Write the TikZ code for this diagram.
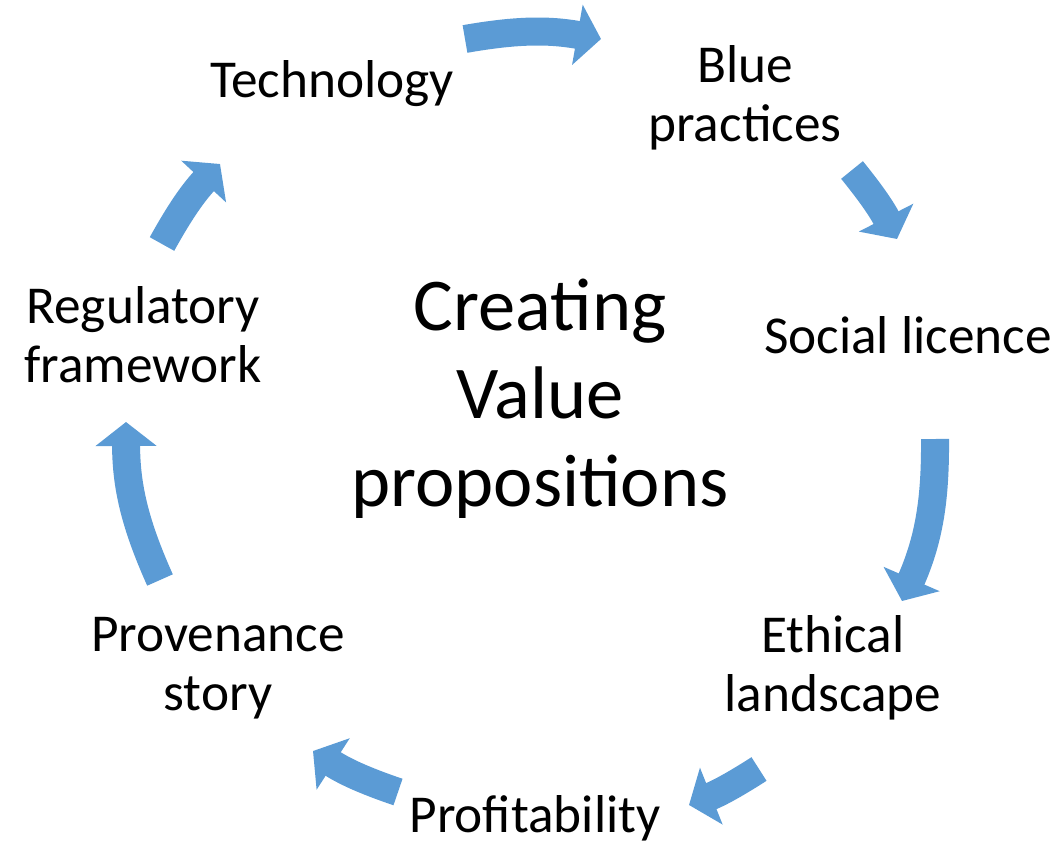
\documentclass[tikz,border=0pt]{standalone}
\usepackage{fontspec}
\setmainfont{Carlito}
\usetikzlibrary{arrows.meta}
\definecolor{arrowblue}{HTML}{5B9BD5}
\begin{document}
\begin{tikzpicture}[x=1pt,y=1pt,
 lbl/.style={font=\fontsize{53.3}{59}\selectfont, align=center, inner sep=0pt},
 cyc/.style={draw=arrowblue, line width=28pt, -{Triangle[width=60pt,length=24pt]}}]
\useasboundingbox (0,0) rectangle (1059,-840);
\clip (0,0) rectangle (1059,-840);
\node[lbl] (tech) at (332,-84) {Technology};
\node[lbl] (blue) at (745,-98) {Blue\\practices};
\node[lbl] (social) at (908,-335) {Social licence};
\node[lbl] (ethical) at (833,-668) {Ethical\\landscape};
\node[lbl, anchor=base] (profit) at (535,-832) {Profitability};
\node[lbl] (prov) at (218,-668) {Provenance\\story};
\node[lbl] (reg) at (143,-335) {Regulatory\\framework};
\node[font=\fontsize{74.5}{88}\selectfont, align=center, inner sep=0pt] (centre) at (540,-399) {Crea\kern0pt ting\\Value\\proposi\kern0pt tions};
\coordinate (t1) at (465,-39); \coordinate (h1) at (601,-39);
\coordinate (t2) at (852,-170); \coordinate (h2) at (897,-239);
\coordinate (t3) at (935,-439); \coordinate (h3) at (902,-601);
\coordinate (t4) at (759,-769); \coordinate (h4) at (689,-805);
\coordinate (t5) at (398,-792); \coordinate (h5) at (313,-751);
\coordinate (t6) at (160,-580); \coordinate (h6) at (126,-422);
\coordinate (t7) at (162,-244); \coordinate (h7) at (220,-164);
\draw[cyc] (t1) to[bend left=10] (h1);
\draw[cyc] (t2) to[bend left=6] (h2);
\draw[cyc] (t3) to[bend left=12] (h3);
\draw[cyc] (t4) to[bend left=5.5] (h4);
\draw[cyc] (t5) to[bend left=7] (h5);
\draw[cyc] (t6) to[bend left=12] (h6);
\draw[cyc] (t7) to[bend left=7] (h7);
\end{tikzpicture}
\end{document}
